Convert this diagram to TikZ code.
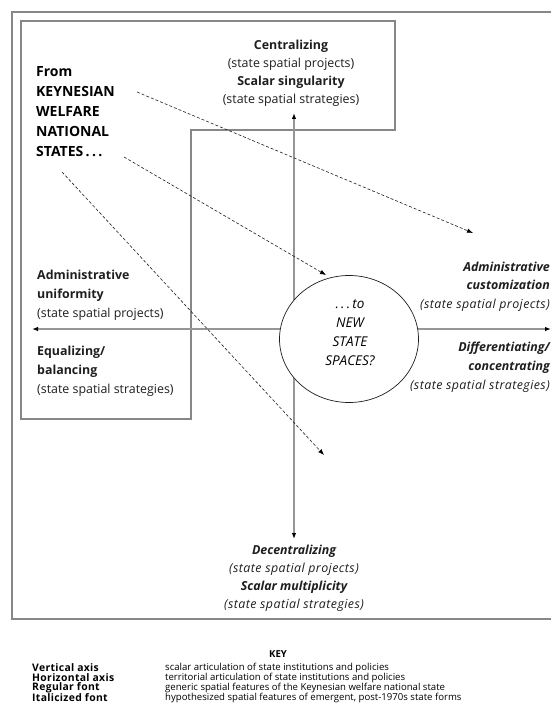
\documentclass[tikz,border=0pt]{standalone}
\usepackage{fontspec}
\setmainfont{Open Sans}
\usetikzlibrary{arrows.meta,shapes.geometric}
\definecolor{framegray}{RGB}{135,135,135}
\definecolor{axisgray}{RGB}{150,150,150}
\definecolor{inkgray}{RGB}{30,30,30}
% slightly tracked italic for the parenthetical lines
\newcommand{\widetext}[1]{{\addfontfeature{LetterSpace=3.5}#1}}
\begin{document}
\begin{tikzpicture}[x=1pt,y=-1pt,
  framebox/.style={draw=framegray,line width=1.1pt},
  axis/.style={draw=axisgray,line width=1.1pt,
    {Latex[black,length=6pt,width=4.5pt]}-{Latex[black,length=6pt,width=4.5pt]}},
  flow/.style={draw=inkgray,line width=0.6pt,dash pattern=on 3pt off 2pt,
    -{Latex[black,length=6pt,width=4.5pt]}},
  blk/.style={inner sep=0pt,text=inkgray,font=\fontsize{12.4}{18}\selectfont},
  big/.style={inner sep=0pt,text=black,font=\fontsize{14}{20}\selectfont},
  keylbl/.style={inner sep=0pt,anchor=west,text=black,font=\fontsize{10.4}{11}\selectfont\bfseries\addfontfeature{LetterSpace=3}},
  keytxt/.style={inner sep=0pt,anchor=west,text=black,font=\fontsize{9.6}{11}\selectfont}
]
\useasboundingbox (0,0) rectangle (550,706);

% outer frame and the stepped box of the Keynesian quadrant
\draw[framebox] (12,12) rectangle (560,619);
\draw[framebox] (21,21) -- (395,21) -- (395,130) -- (191,130) -- (191,419) -- (21,419) -- cycle;

% axes
\coordinate (vtop) at (294,113);
\coordinate (vbot) at (294,539);
\coordinate (hleft) at (32,329);
\coordinate (hright) at (551,329);
\draw[axis] (vtop) -- (vbot);
\draw[axis] (hleft) -- (hright);

% central ellipse
\node[ellipse,draw=inkgray,fill=white,line width=0.7pt,minimum width=139,minimum height=127,inner sep=0pt] (hub) at (349,339) {};
\node[big,align=center,font=\fontsize{13.5}{19}\selectfont\itshape] (hubtext) at (350,333)
  {.\,.\,.\,to\\NEW\\STATE\\SPACES?};

% pole labels
\node[blk,align=center] (north) at (291,73)
  {\textbf{Centralizing}\\(state spatial projects)\\\textbf{Scalar singularity}\\(state spatial strategies)};
\node[blk,align=center,font=\fontsize{12.4}{18}\selectfont\itshape] (south) at (294,578)
  {\textbf{Decentralizing}\\\widetext{(state spatial projects)}\\\textbf{Scalar multiplicity}\\\widetext{(state spatial strategies)}};
\node[blk,align=left,anchor=west,font=\fontsize{12.4}{19}\selectfont] (westA) at (37,295)
  {\textbf{Administrative}\\\textbf{uniformity}\\(state spatial projects)};
\node[blk,align=left,anchor=west,font=\fontsize{12.4}{19}\selectfont] (westB) at (37,371)
  {\textbf{Equalizing/}\\\textbf{balancing}\\(state spatial strategies)};
\node[blk,align=right,anchor=east,font=\fontsize{12.4}{18.5}\selectfont\itshape] (eastA) at (550,286.5)
  {\textbf{Administrative}\\\textbf{customization}\\\widetext{(state spatial projects)}};
\node[blk,align=right,anchor=east,font=\fontsize{12.4}{19}\selectfont\itshape] (eastB) at (550,367)
  {\textbf{Differentiating/}\\\textbf{concentrating}\\\widetext{(state spatial strategies)}};

% starting point
\node[big,align=left,anchor=west,font=\fontsize{14}{20}\selectfont\bfseries] (from) at (36,112)
  {From\\KEYNESIAN\\WELFARE\\NATIONAL\\STATES\,.\,.\,.};

% transition paths
\coordinate (p1s) at (137,92);
\coordinate (p1e) at (473,233);
\coordinate (p2s) at (124,157);
\coordinate (p2e) at (326,275);
\coordinate (p3s) at (62,172);
\coordinate (p3e) at (324,455);
\draw[flow] (p1s) -- (p1e);
\draw[flow] (p2s) -- (p2e);
\draw[flow] (p3s) -- (p3e);

% key
\node[inner sep=0pt,font=\fontsize{9.6}{11}\selectfont\bfseries] (key) at (278,654) {KEY};
\node[keylbl] (k1) at (32,668) {Vertical axis};
\node[keylbl] (k2) at (32,678) {Horizontal axis};
\node[keylbl] (k3) at (32,688) {Regular font};
\node[keylbl] (k4) at (32,698) {Italicized font};
\node[keytxt] (d1) at (165,668) {scalar articulation of state institutions and policies};
\node[keytxt] (d2) at (165,678) {territorial articulation of state institutions and policies};
\node[keytxt] (d3) at (165,688) {generic spatial features of the Keynesian welfare national state};
\node[keytxt] (d4) at (165,698) {hypothesized spatial features of emergent, post-1970s state forms};
\end{tikzpicture}
\end{document}
